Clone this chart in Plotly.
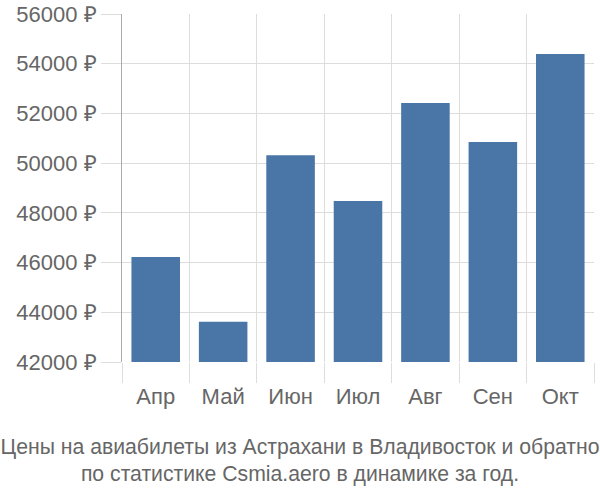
import plotly.graph_objects as go

# Monthly ticket prices (RUB)
months = ["Апр", "Май", "Июн", "Июл", "Авг", "Сен", "Окт"]
prices = [46220, 43620, 50320, 48480, 52420, 50850, 54390]
y_ticks = [42000, 44000, 46000, 48000, 50000, 52000, 54000, 56000]
y_labels = [f"{v} ₽" for v in y_ticks]

grey = "#666666"
grid = "#dddddd"

fig = go.Figure(go.Bar(
    x=list(range(len(months))),
    y=prices,
    width=0.72,
    marker=dict(color="#4a76a7", line=dict(width=0)),
))

fig.update_layout(
    width=600,
    height=500,
    margin=dict(l=122, r=6, t=14, b=138),
    plot_bgcolor="white",
    paper_bgcolor="white",
    font=dict(family="Liberation Sans, Arial", size=22, color=grey),
    showlegend=False,
    title=dict(
        text="Цены на авиабилеты из Астрахани в Владивосток и обратно<br>по статистике Csmia.aero в динамике за год.",
        x=0.5,
        xref="container",
        xanchor="center",
        y=0.093,
        yref="container",
        yanchor="top",
        font=dict(family="Liberation Sans, Arial", size=21.2, color=grey),
    ),
)

fig.update_xaxes(
    range=[-0.5, len(months) - 0.5],
    tickmode="array",
    tickvals=list(range(len(months))),
    ticktext=months,
    showgrid=False,
    ticks="",
    showline=False,
    zeroline=False,
    automargin=False,
    ticklabelstandoff=19,
    minor=dict(
        tickmode="array",
        tickvals=[i - 0.5 for i in range(len(months) + 1)],
        showgrid=True,
        gridcolor=grid,
        gridwidth=1,
        ticks="outside",
        ticklen=20,
        tickcolor=grid,
    ),
)

fig.update_yaxes(
    range=[42000, 56000],
    tickmode="array",
    tickvals=y_ticks,
    ticktext=y_labels,
    showgrid=True,
    gridcolor=grid,
    ticks="outside",
    ticklen=20,
    tickcolor=grid,
    showline=True,
    linecolor="#aaaaaa",
    linewidth=1,
    zeroline=False,
    automargin=False,
)

# drop the default body margin so the figure sits at the page corner
fig.write_html(
    "out.html",
    config={"displayModeBar": False},
    post_script="document.body.style.margin='0';",
)
